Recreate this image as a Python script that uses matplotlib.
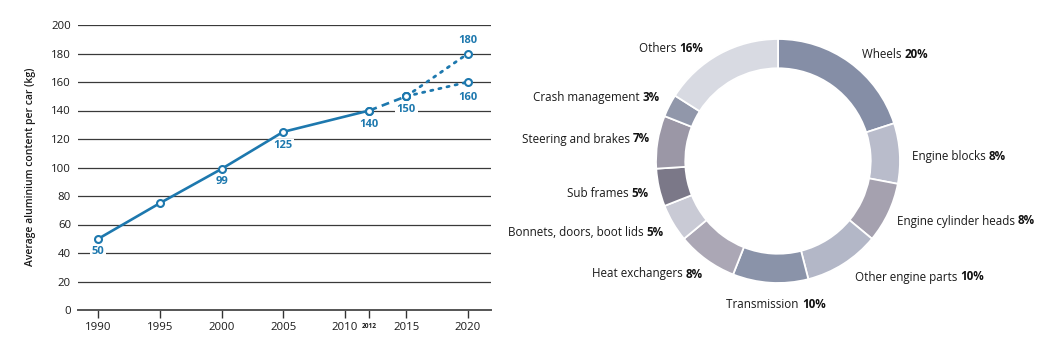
import numpy as np
import matplotlib
matplotlib.use('Agg')
import matplotlib.pyplot as plt

plt.rcParams['font.family'] = ['Open Sans', 'DejaVu Sans']

# line chart data
years_hist = [1990, 1995, 2000, 2005, 2012]
kg_hist = [50, 75, 99, 125, 140]
years_near = [2012, 2015]
kg_near = [140, 150]
years_proj = [2015, 2020]
kg_high = [150, 180]
kg_low = [150, 160]
xticks = [1990, 1995, 2000, 2005, 2010, 2015, 2020]
yticks = list(range(0, 201, 20))

# donut data (clockwise from top)
parts = ['Wheels', 'Engine blocks', 'Engine cylinder heads', 'Other engine parts',
         'Transmission', 'Heat exchangers', 'Bonnets, doors, boot lids', 'Sub frames',
         'Steering and brakes', 'Crash management', 'Others']
shares = [20, 8, 8, 10, 10, 8, 5, 5, 7, 3, 16]
part_colors = ['#858ea6', '#b9bccb', '#a5a1af', '#b3b7c7', '#8a93a9', '#aba7b5',
               '#c9cad5', '#7b7888', '#9b97a6', '#9197aa', '#d8dae2']

blue = '#1d78ae'
W, H = 1052, 342
fig = plt.figure(figsize=(W / 100, H / 100), dpi=100)

# ---- line chart ----
ax = fig.add_axes([78 / W, 1 - 310 / H, (491 - 78) / W, (310 - 25) / H])
ax.set_xlim(1988.35, 2021.87)
ax.set_ylim(0, 200)
for y in yticks[1:]:
    ax.axhline(y, color='#3a3a3a', lw=0.9, zorder=1)
for s in ['top', 'right', 'left']:
    ax.spines[s].set_visible(False)
ax.spines['bottom'].set_color('#555555')
ax.spines['bottom'].set_linewidth(1.4)
ax.set_yticks(yticks)
ax.set_xticks(xticks + [2012])
ax.set_xticklabels([str(x) for x in xticks] + ['2012'])
ax.tick_params(axis='y', length=0, pad=5, labelsize=8.2, labelcolor='#1a1a1a')
ax.tick_params(axis='x', length=6, width=1, color='#333333', pad=3,
               labelsize=8.2, labelcolor='#1a1a1a')
for lab in ax.get_xticklabels():
    if lab.get_text() == '2012':
        lab.set_fontsize(4.8)
        lab.set_fontweight('bold')

mk = dict(marker='o', ms=5, mfc='white', mec=blue, mew=1.5, color=blue, zorder=4)
ax.plot(years_hist, kg_hist, lw=1.9, **mk)
ax.plot(years_near, kg_near, lw=1.9, ls=(0, (3, 2)), **mk)
ax.plot(years_proj, kg_high, lw=2, ls=(0, (0.8, 2.2)), dash_capstyle='round', **mk)
ax.plot(years_proj, kg_low, lw=2, ls=(0, (0.8, 2.2)), dash_capstyle='round', **mk)

lab_kw = dict(textcoords='offset points', ha='center', va='center', fontsize=8,
              fontweight='bold', color=blue, zorder=3,
              bbox=dict(boxstyle='square,pad=0.15', fc='white', ec='none'))
label_off = {1990: -9, 1995: None, 2000: -9, 2005: -10, 2012: -10}
for x, y in zip(years_hist, kg_hist):
    off = label_off[x]
    if off is None:
        continue
    ax.annotate(str(y), (x, y), xytext=(0, off), **lab_kw)
ax.annotate(str(kg_near[1]), (years_near[1], kg_near[1]), xytext=(0, -9.5), **lab_kw)
ax.annotate(str(kg_high[1]), (years_proj[1], kg_high[1]), xytext=(0, 9.5),
            annotation_clip=False, **lab_kw)
ax.annotate(str(kg_low[1]), (years_proj[1], kg_low[1]), xytext=(0, -11.5), **lab_kw)

fig.text(31 / W, 1 - 167 / H, 'Average aluminium content per car (kg)', rotation=90,
         ha='center', va='center', fontsize=7.5, fontweight='semibold', color='#1a1a1a')

# ---- donut ----
cx, cy, r = 778, 161, 122
ax2 = fig.add_axes([(cx - r) / W, 1 - (cy + r) / H, 2 * r / W, 2 * r / H])
ax2.pie(shares, colors=part_colors, startangle=90, counterclock=False, radius=1,
        wedgeprops=dict(width=0.24, edgecolor='white', linewidth=1.3))
ax2.set_xlim(-1, 1)
ax2.set_ylim(-1, 1)
ax2.axis('off')

# label anchor pixels: (x, y, alignment)
label_pos = [(862, 54, 'left'), (912, 157, 'left'), (897, 221, 'left'),
             (855, 277, 'left'), (776, 304, 'center'), (703, 274, 'right'),
             (664, 233, 'right'), (649, 193, 'right'), (650, 139, 'right'),
             (660, 98, 'right'), (703, 49, 'right')]

fig.canvas.draw()
rend = fig.canvas.get_renderer()
for name, pct, (px, py, al) in zip(parts, shares, label_pos):
    fx, fy = px / W, 1 - py / H
    t1 = fig.text(0, fy, name + ' ', fontsize=8.4, color='#1a1a1a', va='center')
    t2 = fig.text(0, fy, f'{pct}%', fontsize=8.4, fontweight='bold', color='#111111',
                  va='center')
    w1 = t1.get_window_extent(rend).width / W
    w2 = t2.get_window_extent(rend).width / W
    if al == 'left':
        x0 = fx
    elif al == 'right':
        x0 = fx - w1 - w2
    else:
        x0 = fx - (w1 + w2) / 2
    t1.set_x(x0)
    t2.set_x(x0 + w1)

fig.savefig('out.png', dpi=100)
